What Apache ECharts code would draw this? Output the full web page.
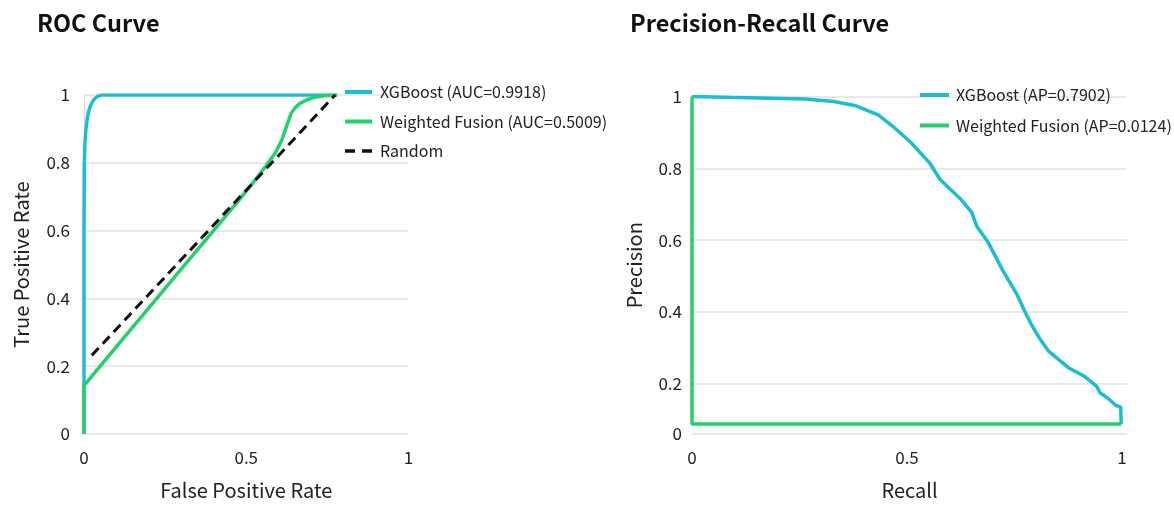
<!DOCTYPE html>
<html>
<head>
<meta charset="utf-8">
<script src="https://cdn.jsdelivr.net/npm/echarts@6/dist/echarts.min.js"></script>
<style>
html,body{margin:0;padding:0;background:#fff;}
#chart{width:1174px;height:505px;}
</style>
</head>
<body>
<div id="chart"></div>
<script>
// ---- ROC data ----
const rocXgbFpr = [0, 0, 0.001, 0.003, 0.006, 0.01, 0.014, 0.019, 0.025, 0.032, 0.04, 0.05, 0.06, 0.78];
const rocXgbTpr = [0, 0.6, 0.8, 0.86, 0.9, 0.93, 0.95, 0.966, 0.978, 0.988, 0.995, 0.999, 1, 1];
const rocWfFpr = [0, 0, 0.1, 0.2, 0.3, 0.4, 0.48, 0.52, 0.56, 0.59, 0.61, 0.625, 0.638, 0.65, 0.665, 0.687, 0.71, 0.74, 0.78];
const rocWfTpr = [0, 0.143, 0.258, 0.372, 0.487, 0.601, 0.693, 0.74, 0.79, 0.83, 0.868, 0.91, 0.945, 0.962, 0.975, 0.986, 0.993, 0.998, 1];
const rocRandX = [0.024, 0.774];
const rocRandY = [0.232, 1];

// ---- PR data ----
const prXgbRecall = [0, 0.262, 0.33, 0.381, 0.433, 0.467, 0.509, 0.552, 0.577, 0.625, 0.65, 0.663, 0.688, 0.723, 0.757, 0.778, 0.791, 0.808, 0.829, 0.876, 0.911, 0.94, 0.949, 0.97, 0.985, 0.997, 0.998];
const prXgbPrecision = [1, 0.993, 0.986, 0.974, 0.949, 0.917, 0.872, 0.816, 0.769, 0.714, 0.678, 0.637, 0.595, 0.515, 0.446, 0.391, 0.361, 0.327, 0.291, 0.244, 0.222, 0.194, 0.175, 0.157, 0.14, 0.135, 0.088];
const prWfRecall = [0, 0, 0.998];
const prWfPrecision = [1, 0.088, 0.088];

// ---- labels / ticks ----
const rocLegend = ['XGBoost (AUC=0.9918)', 'Weighted Fusion (AUC=0.5009)', 'Random'];
const prLegend = ['XGBoost (AP=0.7902)', 'Weighted Fusion (AP=0.0124)'];
const xTickValues = [0, 0.5, 1];
const prYTickValues = [0.06, 0.2, 0.4, 0.6, 0.8, 1];
const prYTickLabels = ['0', '0.2', '0.4', '0.6', '0.8', '1'];

const CYAN = '#1bbdd6';
const GREEN = '#25d06c';
const FONT = '"Noto Sans CJK SC", "Noto Sans", sans-serif';

function zip(a, b) { return a.map((v, i) => [v, b[i]]); }

const axisLabelStyle = { color: '#222', fontSize: 17, fontFamily: FONT };
const nameStyle = { color: '#222', fontSize: 20, fontFamily: FONT };
const legendItemStyle = { color: 'rgba(0,0,0,0)', borderWidth: 0, borderColor: 'rgba(0,0,0,0)', opacity: 0 };
const legendText = { fontSize: 16, color: '#222', fontFamily: FONT, lineHeight: 16 };

const chart = echarts.init(document.getElementById('chart'), null, { renderer: 'canvas' });
chart.setOption({
  animation: false,
  backgroundColor: '#fff',
  title: [
    { text: 'ROC Curve', left: 32, top: 6, textStyle: { fontSize: 23.5, fontWeight: 'bold', color: '#111', fontFamily: FONT } },
    { text: 'Precision-Recall Curve', left: 625, top: 6, textStyle: { fontSize: 23.5, fontWeight: 'bold', color: '#111', fontFamily: FONT } }
  ],
  legend: [
    {
      data: [
        { name: rocLegend[0] },
        { name: rocLegend[1] },
        { name: rocLegend[2], lineStyle: { type: [10, 7], width: 3.5 } }
      ],
      orient: 'vertical', left: 343, top: 84, padding: 0, itemWidth: 27, itemHeight: 14, itemGap: 13.5,
      itemStyle: legendItemStyle, lineStyle: { width: 4 },
      textStyle: Object.assign({ padding: [0, 0, 0, 3] }, legendText)
    },
    {
      data: prLegend, orient: 'vertical', left: 918, top: 87, padding: 0, itemWidth: 29, itemHeight: 14, itemGap: 14.5,
      itemStyle: legendItemStyle, lineStyle: { width: 4 },
      textStyle: Object.assign({ padding: [0, 0, 0, 2] }, legendText)
    }
  ],
  grid: [
    { left: 84, top: 95, width: 324.5, height: 342 },
    { left: 692, top: 96.5, width: 435, height: 340.5 }
  ],
  xAxis: [
    {
      gridIndex: 0, type: 'value', min: 0, max: 1, interval: 0.5,
      name: 'False Positive Rate', nameLocation: 'middle', nameGap: 46, nameTextStyle: nameStyle,
      axisLine: { show: false }, axisTick: { show: false }, splitLine: { show: false },
      axisLabel: Object.assign({ margin: 15 }, axisLabelStyle)
    },
    {
      gridIndex: 1, type: 'value', min: 0, max: 1.0116,
      name: 'Recall', nameLocation: 'middle', nameGap: 46, nameTextStyle: nameStyle,
      axisLine: { show: false }, axisTick: { show: false, customValues: xTickValues }, splitLine: { show: false },
      axisLabel: Object.assign({ margin: 15, customValues: xTickValues, showMaxLabel: true }, axisLabelStyle)
    }
  ],
  yAxis: [
    {
      gridIndex: 0, type: 'value', min: 0, max: 1, interval: 0.2,
      name: 'True Positive Rate', nameLocation: 'middle', nameGap: 53, nameTextStyle: nameStyle,
      axisLine: { show: true, lineStyle: { color: '#dcdcdc', width: 1 } }, axisTick: { show: false },
      splitLine: { show: true, lineStyle: { color: '#e2e2e2', width: 1.5 } },
      axisLabel: Object.assign({ margin: 14 }, axisLabelStyle)
    },
    {
      gridIndex: 1, type: 'value', min: 0.06, max: 1,
      name: 'Precision', nameLocation: 'middle', nameGap: 48, nameTextStyle: nameStyle,
      axisLine: { show: false }, axisTick: { show: false, customValues: prYTickValues },
      splitLine: { show: true, lineStyle: { color: '#e2e2e2', width: 1.5 } },
      axisLabel: Object.assign({
        margin: 10, customValues: prYTickValues,
        formatter: function (v) {
          let best = 0;
          prYTickValues.forEach((t, i) => { if (Math.abs(t - v) < Math.abs(prYTickValues[best] - v)) best = i; });
          return prYTickLabels[best];
        }
      }, axisLabelStyle)
    }
  ],
  series: [
    {
      name: rocLegend[0], type: 'line', xAxisIndex: 0, yAxisIndex: 0, data: zip(rocXgbFpr, rocXgbTpr),
      showSymbol: false, symbol: 'none', lineStyle: { color: CYAN, width: 3.5 }, itemStyle: { color: CYAN }
    },
    {
      name: rocLegend[1], type: 'line', xAxisIndex: 0, yAxisIndex: 0, data: zip(rocWfFpr, rocWfTpr),
      showSymbol: false, symbol: 'none', lineStyle: { color: GREEN, width: 3.5 }, itemStyle: { color: GREEN }
    },
    {
      name: rocLegend[2], type: 'line', xAxisIndex: 0, yAxisIndex: 0, data: zip(rocRandX, rocRandY),
      showSymbol: false, symbol: 'none', lineStyle: { color: '#111', width: 3, type: [10, 6] }, itemStyle: { color: '#111' }
    },
    {
      name: prLegend[0], type: 'line', xAxisIndex: 1, yAxisIndex: 1, data: zip(prXgbRecall, prXgbPrecision),
      showSymbol: false, symbol: 'none', lineStyle: { color: CYAN, width: 3.5 }, itemStyle: { color: CYAN }
    },
    {
      name: prLegend[1], type: 'line', xAxisIndex: 1, yAxisIndex: 1, data: zip(prWfRecall, prWfPrecision),
      showSymbol: false, symbol: 'none', lineStyle: { color: GREEN, width: 3.5 }, itemStyle: { color: GREEN }
    }
  ]
});
</script>
</body>
</html>
